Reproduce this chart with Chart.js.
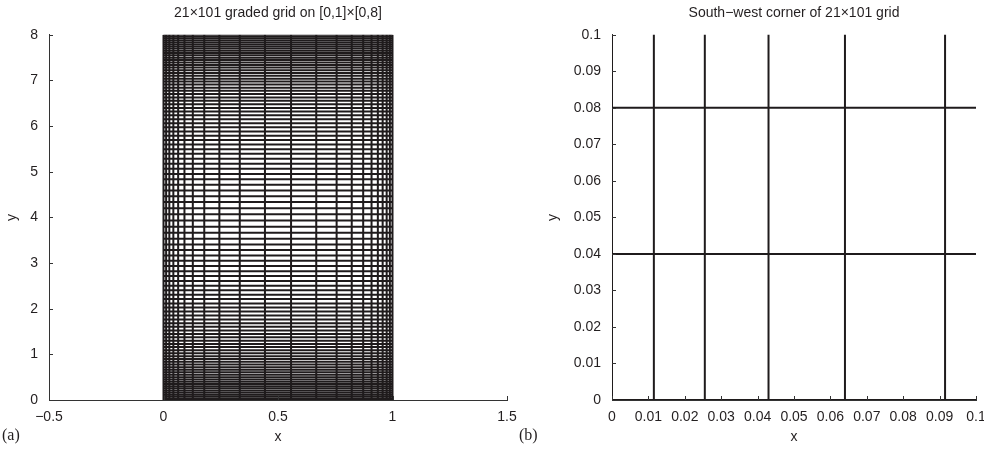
<!DOCTYPE html>
<html>
<head>
<meta charset="utf-8">
<title>Graded grid</title>
<script src="https://cdn.jsdelivr.net/npm/chart.js@4.4.1/dist/chart.umd.min.js"></script>
<style>
  body { margin: 0; background: #fff; overflow: hidden; }
  #wrap { position: relative; width: 984px; height: 452px; overflow: hidden; }
  canvas { position: absolute; top: 0; }
  #gridFull { left: 0; }
  #gridCorner { left: 500px; }
  .panel { position: absolute; top: 426px; font: 16px 'Liberation Serif', 'Times New Roman', serif; color: #231f20; }
</style>
</head>
<body>
<div id="wrap">
  <canvas id="gridFull" width="530" height="452"></canvas>
  <canvas id="gridCorner" width="500" height="452"></canvas>
  <div class="panel" style="left:2px">(a)</div>
  <div class="panel" style="left:519px">(b)</div>
</div>
<script>
// grid node positions (x: 22 nodes on [0,1], y: 102 nodes on [0,8]), clustered at both walls
const xNodes = [0, 0.0115, 0.0255, 0.043, 0.064, 0.0915, 0.128, 0.178, 0.244, 0.333, 0.443,
                0.557, 0.667, 0.756, 0.822, 0.872, 0.9085, 0.936, 0.957, 0.9745, 0.9885, 1];

const yNodes = [0, 0.040, 0.080, 0.123, 0.166, 0.210, 0.256, 0.302, 0.350, 0.399,
                0.449, 0.500, 0.553, 0.607, 0.662, 0.719, 0.777, 0.837, 0.898, 0.961,
                1.025, 1.091, 1.159, 1.228, 1.299, 1.372, 1.446, 1.523, 1.602, 1.682,
                1.765, 1.849, 1.936, 2.025, 2.116, 2.210, 2.306, 2.404, 2.505, 2.608,
                2.714, 2.823, 2.934, 3.049, 3.166, 3.286, 3.409, 3.535, 3.665, 3.797,
                3.933, 4.067, 4.203, 4.335, 4.465, 4.591, 4.714, 4.834, 4.951, 5.066,
                5.177, 5.286, 5.392, 5.495, 5.596, 5.694, 5.790, 5.884, 5.975, 6.064,
                6.151, 6.235, 6.318, 6.398, 6.477, 6.554, 6.628, 6.701, 6.772, 6.841,
                6.909, 6.975, 7.039, 7.102, 7.163, 7.223, 7.281, 7.338, 7.393, 7.447,
                7.500, 7.551, 7.601, 7.650, 7.698, 7.744, 7.790, 7.834, 7.877, 7.920,
                7.960, 8];

// tick values
const fullXTicks = [-0.5, 0, 0.5, 1, 1.5];
const fullYTicks = [0, 1, 2, 3, 4, 5, 6, 7, 8];
const cornerTicks = [0, 0.01, 0.02, 0.03, 0.04, 0.05, 0.06, 0.07, 0.08, 0.09, 0.1];

const LINE = '#1f1b1c';
const AXIS = '#333333';
const FONT = "'Liberation Sans', Arial, Helvetica, sans-serif";

Chart.defaults.font.family = FONT;
Chart.defaults.font.size = 14;
Chart.defaults.color = '#231f20';

function fmt(v) {
    const s = String(+v.toFixed(2));
    return v < 0 ? '\u2212' + s.slice(1) : s;
}

// one dataset per grid line, vertical lines first then horizontal ones
function gridDatasets(xs, ys) {
    const sets = [];
    xs.forEach(x => sets.push([{ x: x, y: ys[0] }, { x: x, y: ys[ys.length - 1] }]));
    ys.forEach(y => sets.push([{ x: xs[0], y: y }, { x: xs[xs.length - 1], y: y }]));
    return sets.map(pts => ({
        data: pts,
        showLine: true,
        borderColor: LINE,
        borderWidth: 2,
        pointRadius: 0,
        fill: false
    }));
}

// MATLAB style ticks pointing into the axes
const inwardTicks = {
    id: 'inwardTicks',
    afterDatasetsDraw(chart) {
        const { ctx, chartArea, scales } = chart;
        ctx.save();
        ctx.strokeStyle = AXIS;
        ctx.lineWidth = 1;
        ctx.beginPath();
        scales.x.ticks.forEach(t => {
            const px = Math.round(scales.x.getPixelForValue(t.value)) + 0.5;
            ctx.moveTo(px, chartArea.bottom);
            ctx.lineTo(px, chartArea.bottom - 4);
        });
        scales.y.ticks.forEach(t => {
            const py = Math.round(scales.y.getPixelForValue(t.value)) + 0.5;
            ctx.moveTo(chartArea.left, py);
            ctx.lineTo(chartArea.left + 4, py);
        });
        ctx.stroke();
        ctx.restore();
    }
};

function axis(min, max, ticks, opts) {
    return {
        type: 'linear',
        min: min,
        max: max,
        afterBuildTicks: s => { s.ticks = ticks.map(v => ({ value: v })); },
        afterFit: opts.fit,
        grid: { display: false },
        border: { display: true, color: AXIS, width: 1 },
        ticks: { padding: opts.pad, autoSkip: false, maxRotation: 0, callback: v => fmt(v) },
        title: { display: true, text: opts.label, font: { size: 14 }, padding: opts.titlePad }
    };
}

function makeChart(id, cfg) {
    return new Chart(document.getElementById(id), {
        type: 'scatter',
        data: { datasets: gridDatasets(xNodes, yNodes) },
        options: {
            responsive: false,
            animation: false,
            events: [],
            layout: { padding: { left: 0, right: cfg.rightPad, top: 0, bottom: 0 } },
            plugins: {
                legend: { display: false },
                tooltip: { enabled: false },
                title: {
                    display: true,
                    text: cfg.title,
                    fullSize: false,
                    font: { size: 14, weight: 'normal' },
                    padding: { top: 5, bottom: 13 }
                }
            },
            scales: {
                x: axis(cfg.x[0], cfg.x[1], cfg.xTicks, {
                    fit: s => { s.height = 52; },
                    pad: 1, label: 'x', titlePad: { top: 0, bottom: 6 }
                }),
                y: axis(cfg.y[0], cfg.y[1], cfg.yTicks, {
                    fit: s => { s.width = cfg.yWidth; },
                    pad: 3, label: 'y', titlePad: { top: cfg.yTitlePad, bottom: 0 }
                })
            }
        },
        plugins: [inwardTicks]
    });
}

makeChart('gridFull', {
    title: '21\u00d7101 graded grid on [0,1]\u00d7[0,8]',
    x: [-0.5, 1.5], y: [0, 8],
    xTicks: fullXTicks, yTicks: fullYTicks,
    yWidth: 49, yTitlePad: 4, rightPad: 23
});

makeChart('gridCorner', {
    title: 'South\u2212west corner of 21\u00d7101 grid',
    x: [0, 0.1], y: [0, 0.1],
    xTicks: cornerTicks, yTicks: cornerTicks,
    yWidth: 112, yTitlePad: 45, rightPad: 24
});
</script>
</body>
</html>
